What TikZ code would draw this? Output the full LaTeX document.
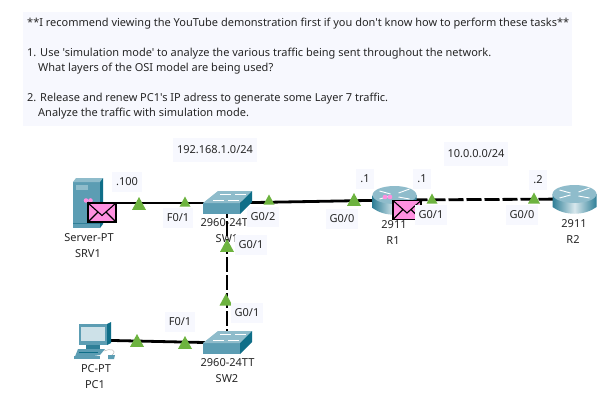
\documentclass[tikz,border=0pt]{standalone}
\usepackage{fontspec}
\newfontfamily\notofont{Noto Sans}
\usetikzlibrary{calc}
\definecolor{panel}{HTML}{F7F8FE}
\definecolor{tealA}{HTML}{5C9DB3}
\definecolor{tealB}{HTML}{2F7F97}
\definecolor{tealC}{HTML}{8FBCCB}
\definecolor{tealD}{HTML}{0F6E88}
\definecolor{mark}{HTML}{6DB33F}
\definecolor{envl}{HTML}{FF90E0}
\tikzset{
  x=1pt,y=-1pt,
  txt/.style={font=\notofont\fontsize{11}{15}\selectfont,text=black!85,inner sep=0pt},
  lbl/.style={txt,fill=panel,inner xsep=4pt,inner ysep=6pt},
  netlbl/.style={lbl,inner ysep=8pt},
  devlbl/.style={txt,align=center},
  device/.style={inner sep=0pt,minimum size=1pt},
  link/.style={line width=2.8pt,black},
  dashlink/.style={line width=2.8pt,black,dash pattern=on 15pt off 3pt},
  tri/.style={fill=mark,draw=none},
  pics/swt/.style={code={
    \fill[tealA] (-24,0) rectangle (13,11);
    \fill[tealC] (-24,0) -- (-9,-12) -- (25,-12) -- (13,0) -- cycle;
    \fill[tealD] (13,0) -- (25,-12) -- (25,-1) -- (13,11) -- cycle;
    \draw[white,line width=.5pt] (-7,-9) -- (4,-9) (8,-9) -- (19,-9) (-14,-3) -- (-3,-3) (1,-3) -- (12,-3);
  }},
  pics/rtr/.style={code={
    \shade[left color=tealB,right color=tealB,middle color=tealC!35] (-22,-5) -- (22,-5) -- (22,8) .. controls (10,17) and (-10,17) .. (-22,8) -- cycle;
    \fill[tealC] (0,-5) ellipse[x radius=22,y radius=9];
    \draw[white,line width=.9pt] (-15,-9) -- (-4,-6) (4,-3) -- (15,-1) (4,-7) -- (15,-11) (-15,-1) -- (-4,-4);
  }},
  pics/srv/.style={code={
    \fill[tealA] (-17,-21) rectangle (10,25);
    \fill[tealC] (-17,-21) -- (-14,-25) -- (13,-25) -- (10,-21) -- cycle;
    \fill[tealD] (10,-21) -- (13,-25) -- (13,21) -- (10,25) -- cycle;
    \fill[tealC] (-14,-18) rectangle (-2,-13);
    \fill[tealB] (-17,20) rectangle (10,21);
  }},
  pics/pcicon/.style={code={
    \fill[tealA] (-11,-16) rectangle (17,5);
    \fill[tealD] (17,-16) -- (21,-18) -- (21,3) -- (17,5) -- cycle;
    \fill[tealC!45] (-9,-13) rectangle (15,1);
    \fill[tealB] (-4,5) rectangle (10,9);
    \fill[tealA] (-12,9) -- (15,9) -- (10,15) -- (-16,19) -- cycle;
    \fill[tealA] (-16,16) rectangle (10,19);
    \fill[tealD] (-11,12) rectangle (8,13);
    \draw[gray!55,line width=.5pt] (14,11) .. controls (20,8) and (28,10) .. (22,15);
    \fill[tealA] (18,15) -- (25,15) -- (24,19) -- (18,19) -- cycle;
  }},
  pics/env/.style={code={
    \fill[envl] (-14,-9.5) rectangle (14,9.5);
    \draw[black,line width=1.1pt] (-14,-9.5) rectangle (14,9.5);
    \draw[black,line width=1.1pt] (-14,-9.5) -- (0,3) -- (14,-9.5) (-14,9.5) -- (-4,-.5) (14,9.5) -- (4,-.5);
  }},
}
\newcommand{\marker}[2]{\fill[tri] ($(#1)+(0,-#2)$) -- ($(#1)+(#2,#2*.85)$) -- ($(#1)+(-#2,#2*.85)$) -- cycle;}
\begin{document}
\begin{tikzpicture}
\useasboundingbox (0,0) rectangle (606,413);
\fill[white] (0,0) rectangle (606,413);
\fill[panel] (23,12) rectangle (572,126);
\node[txt,anchor=west] (t1) at (27,24) {**I recommend viewing the YouTube demonstration first if you don't know how to perform these tasks**};
\node[txt,anchor=west] (t2) at (27,54) {1. Use 'simulation mode' to analyze the various traffic being sent throughout the network.};
\node[txt,anchor=west] (t3) at (38,69) {What layers of the OSI model are being used?};
\node[txt,anchor=west] (t4) at (27,99) {2. Release and renew PC1's IP adress to generate some Layer 7 traffic.};
\node[txt,anchor=west] (t5) at (38,114) {Analyze the traffic with simulation mode.};

\node[netlbl] (net1) at (215,150) {192.168.1.0/24};
\node[netlbl] (net2) at (476,154) {10.0.0.0/24};

\node[devlbl] (d1) at (89,238) {Server-PT};
\node[devlbl] (d2) at (88,254) {SRV1};
\node[devlbl] (d3) at (227.5,223) {2960-24TT};
\node[devlbl] (d4) at (227,239) {SW1};
\node[devlbl] (d5) at (394,225) {2911};
\node[devlbl] (d6) at (393,241) {R1};
\node[devlbl] (d7) at (574,224) {2911};
\node[devlbl] (d8) at (573,240) {R2};
\node[devlbl] (d9) at (96,369) {PC-PT};
\node[devlbl] (d10) at (95,385) {PC1};
\node[devlbl] (d11) at (227.5,363) {2960-24TT};
\node[devlbl] (d12) at (227,379) {SW2};

\node[device] (srv) at (90,203) {};
\node[device] (sw1) at (227,203) {};
\node[device] (sw2) at (227,343) {};
\node[device] (r1) at (394.5,200) {};
\node[device] (r2) at (574.5,199) {};
\node[device] (pc) at (90,340) {};

\draw[link] (srv.center) -- (sw1.center);
\draw[link] (sw1.center) -- (r1.center);
\draw[dashlink] (r1.center) -- (r2.center);
\draw[dashlink] (sw1.center) -- (sw2.center);
\draw[link] (pc.center) -- (sw2.center);

\pic at (srv) {srv};
\pic at (sw1) {swt};
\pic at (sw2) {swt};
\pic at (r1) {rtr};
\pic at (r2) {rtr};
\pic at (pc) {pcicon};

\fill[envl] (86,200.5) circle (2.3) (90.5,200.5) circle (2.3);
\fill[envl] (385,197) circle (2.3) (390,197) circle (2.3);

\coordinate (m1) at (139,204); \marker{m1}{7}
\coordinate (m2) at (185,202); \marker{m2}{5.5}
\coordinate (m3) at (269,200); \marker{m3}{5.5}
\coordinate (m4) at (354,200); \marker{m4}{7}
\coordinate (m5) at (432,199); \marker{m5}{5.5}
\coordinate (m6) at (534,198.5); \marker{m6}{6}
\coordinate (m7) at (227,246); \marker{m7}{7}
\coordinate (m9) at (226,300); \marker{m9}{6.5}
\coordinate (m10) at (137,341); \marker{m10}{7}
\coordinate (m11) at (185,343); \marker{m11}{7}

\pic at (102,212.5) {env};
\pic at (407,210) {env};

\node[lbl] (a1) at (127,182) {.100};
\node[lbl] (a2) at (365,179) {.1};
\node[lbl] (a3) at (422,179) {.1};
\node[lbl] (a4) at (538,180) {.2};
\node[lbl] (p1) at (178,218) {F0/1};
\node[lbl] (p2) at (263,217) {G0/2};
\node[lbl] (p3) at (342,219) {G0/0};
\node[lbl] (p4) at (431,215) {G0/1};
\node[lbl] (p5) at (522,215) {G0/0};
\node[lbl] (p6) at (251,245) {G0/1};
\node[lbl] (p7) at (247,313) {G0/1};
\node[lbl] (p8) at (180,322) {F0/1};
\end{tikzpicture}
\end{document}
